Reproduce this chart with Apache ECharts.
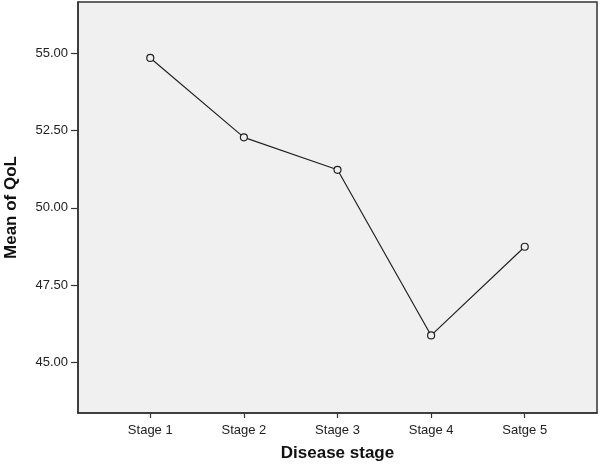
<!DOCTYPE html>
<html>
<head>
<meta charset="utf-8">
<script src="https://cdn.jsdelivr.net/npm/echarts@6/dist/echarts.min.js"></script>
<style>
html,body{margin:0;padding:0;background:#fff;}
#chart{width:600px;height:464px;}
</style>
</head>
<body>
<div id="chart"></div>
<script>
var categories = ['Stage 1', 'Stage 2', 'Stage 3', 'Stage 4', 'Satge 5'];
var meanQoL = [54.85, 52.28, 51.23, 45.87, 48.74];
var yTicks = [45, 47.5, 50, 52.5, 55];
var xTickIndex = [0, 1, 2, 3, 4];

var chart = echarts.init(document.getElementById('chart'));
var seriesData = categories.map(function (c, i) { return [i, meanQoL[i]]; });

chart.setOption({
  animation: false,
  backgroundColor: '#ffffff',
  grid: {
    left: 78, top: 2, right: 3, bottom: 51,
    outerBoundsMode: 'none',
    containLabel: false,
    show: true,
    backgroundColor: '#f0f0f0',
    borderColor: '#333333',
    borderWidth: 1.5
  },
  xAxis: {
    type: 'value',
    min: -0.772,
    max: 4.772,
    name: 'Disease stage',
    nameLocation: 'middle',
    nameGap: 32,
    nameTextStyle: { fontFamily: 'Liberation Sans', fontWeight: 'bold', fontSize: 17, color: '#111' },
    splitLine: { show: false },
    axisLine: { show: true, onZero: false, lineStyle: { color: '#333', width: 1.5 } },
    axisTick: { show: true, customValues: xTickIndex, length: 5, lineStyle: { color: '#333', width: 1.2 } },
    axisLabel: {
      customValues: xTickIndex,
      margin: 11,
      fontFamily: 'Liberation Sans', fontSize: 13, color: '#222',
      formatter: function (v) { return categories[Math.round(v)]; }
    }
  },
  yAxis: {
    type: 'value',
    min: 43.36,
    max: 56.66,
    name: 'Mean of QoL',
    nameLocation: 'middle',
    nameGap: 58,
    nameTextStyle: { fontFamily: 'Liberation Sans', fontWeight: 'bold', fontSize: 17, color: '#111' },
    splitLine: { show: false },
    axisLine: { show: true, onZero: false, lineStyle: { color: '#333', width: 1.5 } },
    axisTick: { show: true, customValues: yTicks, length: 7, lineStyle: { color: '#333', width: 1.2 } },
    axisLabel: {
      customValues: yTicks,
      margin: 10,
      fontFamily: 'Liberation Sans', fontSize: 13, color: '#222',
      formatter: function (v) { return v.toFixed(2); }
    }
  },
  series: [{
    type: 'line',
    data: seriesData,
    symbol: 'circle',
    symbolSize: 7,
    lineStyle: { color: '#222', width: 1.2 },
    itemStyle: { color: '#f0f0f0', borderColor: '#222', borderWidth: 1.2 }
  }]
});
</script>
</body>
</html>
